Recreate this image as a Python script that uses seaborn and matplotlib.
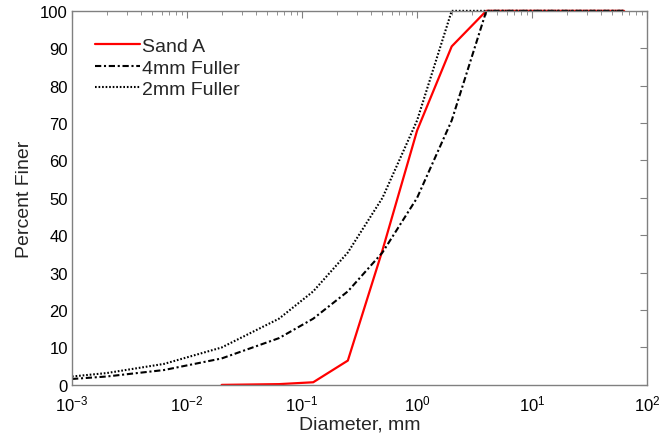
import matplotlib
matplotlib.use("Agg")
import matplotlib.pyplot as plt
import pandas as pd
import seaborn as sns
import numpy as np
from matplotlib.ticker import LogLocator, FixedLocator

sns.set_theme(style="white")
plt.rcParams['font.family'] = ['Liberation Sans', 'DejaVu Sans']

# grading curves (diameter in mm, percent finer)
SAND_A_D = [0.02, 0.063, 0.125, 0.25, 0.5, 1.0, 2.0, 4.0, 63.0]
SAND_A_P = [0.0, 0.2, 0.7, 6.5, 36.0, 68.0, 90.5, 100.0, 100.0]

FULLER_D = [0.001, 0.002, 0.0063, 0.02, 0.063, 0.125, 0.25, 0.5, 1.0, 2.0, 4.0, 63.0]
FULLER4_P = [1.58, 2.24, 3.97, 7.07, 12.5, 17.7, 25.0, 35.4, 50.0, 70.7, 100.0, 100.0]
FULLER2_P = [2.24, 3.16, 5.61, 10.0, 17.7, 25.0, 35.4, 50.0, 70.7, 100.0, 100.0, 100.0]

X_TICKS = [1e-3, 1e-2, 1e-1, 1e0, 1e1, 1e2]
Y_TICKS = list(range(0, 101, 10))

AXIS_COLOR = "#808080"
TICK_SIZE = 12
LABEL_SIZE = 14
LEGEND_SIZE = 14

fig = plt.figure(figsize=(6.61, 4.39), dpi=100)
ax = fig.add_axes([0.109, 0.121, 0.870, 0.852])

df_sand = pd.DataFrame({"d": SAND_A_D, "p": SAND_A_P})
df_f4 = pd.DataFrame({"d": FULLER_D, "p": FULLER4_P})
df_f2 = pd.DataFrame({"d": FULLER_D, "p": FULLER2_P})

sns.lineplot(data=df_sand, x="d", y="p", sort=False, color="#ff0000", lw=1.6,
             label="Sand A", ax=ax)
sns.lineplot(data=df_f4, x="d", y="p", sort=False, color="black", lw=1.5,
             label="4mm Fuller", ax=ax)
sns.lineplot(data=df_f2, x="d", y="p", sort=False, color="black", lw=1.5,
             label="2mm Fuller", ax=ax)

lines = ax.get_lines()
lines[1].set_dashes([3, 1.3, 1, 1.3])
lines[2].set_linestyle((0, (0.8, 0.9)))
for ln in lines:
    ln.set_clip_on(False)

ax.set_xscale("log")
ax.set_xlim(1e-3, 1e2)
ax.set_ylim(0, 100)
ax.xaxis.set_major_locator(FixedLocator(X_TICKS))
ax.xaxis.set_minor_locator(LogLocator(base=10, subs=np.arange(2, 10)))
ax.set_yticks(Y_TICKS)

ax.set_xlabel("Diameter, mm", fontsize=LABEL_SIZE, labelpad=2)
ax.set_ylabel("Percent Finer", fontsize=LABEL_SIZE, labelpad=5)

ax.tick_params(which="both", direction="in", top=True, right=True, color=AXIS_COLOR,
               labelsize=TICK_SIZE, labelcolor="black")
ax.tick_params(which="major", length=5, width=0.8)
ax.tick_params(which="minor", length=3, width=0.6)
ax.tick_params(axis="x", which="major", pad=6)
ax.tick_params(axis="y", which="major", pad=3)
for s in ax.spines.values():
    s.set_color(AXIS_COLOR)
    s.set_linewidth(1.0)

ax.legend(loc="upper left", frameon=False, fontsize=LEGEND_SIZE, handlelength=2.3,
          handletextpad=0.1, labelspacing=0.2, bbox_to_anchor=(0.02, 0.96),
          borderaxespad=0.2)

fig.savefig("out.png", dpi=100)
